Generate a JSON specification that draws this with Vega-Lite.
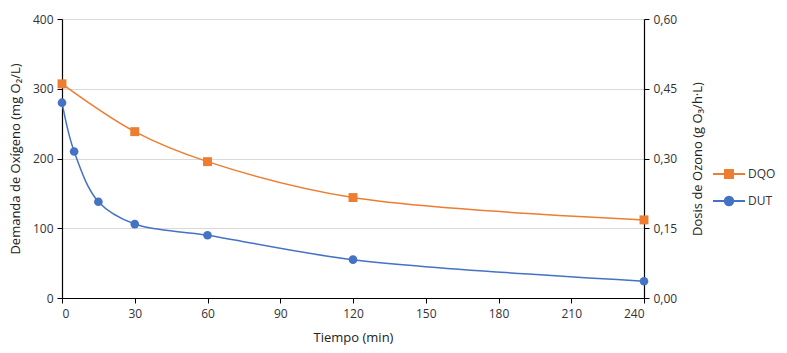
{
  "$schema": "https://vega.github.io/schema/vega-lite/v6.json",
  "width": 582,
  "height": 279,
  "autosize": {"type": "none"},
  "padding": {"left": 62, "top": 19, "right": 143, "bottom": 55},
  "background": "white",
  "config": {
    "view": {"stroke": null},
    "font": "Open Sans",
    "axis": {"labelFont": "Open Sans", "titleFont": "Open Sans", "labelFontSize": 12, "titleFontSize": 13, "titleFontWeight": "normal", "labelColor": "#333333", "titleColor": "#222222", "domainColor": "#000000", "tickColor": "#000000", "tickSize": 5, "domainWidth": 1.2}
  },
  "data": {"values": [
    {"serie": "DQO", "t": 0, "v": 307},
    {"serie": "DQO", "t": 30, "v": 238.5},
    {"serie": "DQO", "t": 60, "v": 195.5},
    {"serie": "DQO", "t": 120, "v": 144},
    {"serie": "DQO", "t": 240, "v": 112},
    {"serie": "DUT", "t": 0, "v": 280},
    {"serie": "DUT", "t": 5, "v": 210},
    {"serie": "DUT", "t": 15, "v": 138},
    {"serie": "DUT", "t": 30, "v": 106},
    {"serie": "DUT", "t": 60, "v": 90},
    {"serie": "DUT", "t": 120, "v": 55},
    {"serie": "DUT", "t": 240, "v": 24}
  ]},
  "encoding": {
    "x": {"field": "t", "type": "quantitative", "scale": {"domain": [0, 240], "nice": false, "zero": false},
      "axis": {"title": "Tiempo (min)", "values": [0, 30, 60, 90, 120, 150, 180, 210, 240], "grid": false, "labelPadding": 5, "titlePadding": 12}}
  },
  "layer": [
    {
      "layer": [
        {
          "mark": {"type": "line", "interpolate": "catmull-rom", "strokeWidth": 1.5},
          "encoding": {
            "y": {"field": "v", "type": "quantitative", "scale": {"domain": [0, 400], "nice": false},
              "axis": {"title": "Demanda de Oxígeno (mg O₂/L)", "values": [0, 100, 200, 300, 400], "grid": true, "gridColor": "#d9d9d9", "gridWidth": 1.2, "labelPadding": 4, "titlePadding": 10}},
            "color": {"field": "serie", "type": "nominal", "scale": {"domain": ["DQO", "DUT"], "range": ["#ED7D31", "#4472C4"]},
              "legend": {
                "title": null, "orient": "none", "legendX": 661, "legendY": 149,
                "labelFont": "Open Sans", "labelFontSize": 12, "labelColor": "#333333", "labelOffset": 13,
                "rowPadding": 10, "symbolSize": 100, "symbolStrokeWidth": 2,
                "encode": {"symbols": {"update": {
                  "shape": {"signal": "datum.value === 'DQO' ? 'M-3.2,0H-0.8M0.8,0H3.2M-0.8,-0.8H0.8V0.8H-0.8Z' : 'M-3.2,0H-0.85M0.85,0H3.2M-0.85,0A0.85,0.85 0 1,0 0.85,0A0.85,0.85 0 1,0 -0.85,0Z'"},
                  "size": {"value": 100},
                  "strokeWidth": {"value": 2},
                  "stroke": {"signal": "scale('color', datum.value)"},
                  "fill": {"signal": "scale('color', datum.value)"},
                  "opacity": {"value": 1}
                }}}
              }},
            "detail": {"field": "serie"}
          }
        },
        {
          "transform": [{"filter": "datum.serie === 'DQO'"}],
          "mark": {"type": "point", "shape": "square", "filled": true, "opacity": 1, "size": 80},
          "encoding": {
            "y": {"field": "v", "type": "quantitative"},
            "color": {"field": "serie", "type": "nominal"}
          }
        },
        {
          "transform": [{"filter": "datum.serie === 'DUT'"}],
          "mark": {"type": "point", "shape": "circle", "filled": true, "opacity": 1, "size": 75},
          "encoding": {
            "y": {"field": "v", "type": "quantitative"},
            "color": {"field": "serie", "type": "nominal"}
          }
        }
      ]
    },
    {
      "mark": {"type": "line", "opacity": 0},
      "encoding": {
        "y": {"field": "v", "type": "quantitative", "scale": {"domain": [0, 400], "nice": false},
          "axis": {"orient": "right", "title": "Dosis de Ozono (g O₃/h·L)", "titleAngle": 270, "values": [0, 100, 200, 300, 400], "grid": false, "labelPadding": 4, "titlePadding": 28,
            "labelExpr": "replace(format(datum.value * 0.0015, '.2f'), '.', ',')"}},
        "detail": {"field": "serie"}
      }
    }
  ],
  "resolve": {"scale": {"y": "independent"}}
}
